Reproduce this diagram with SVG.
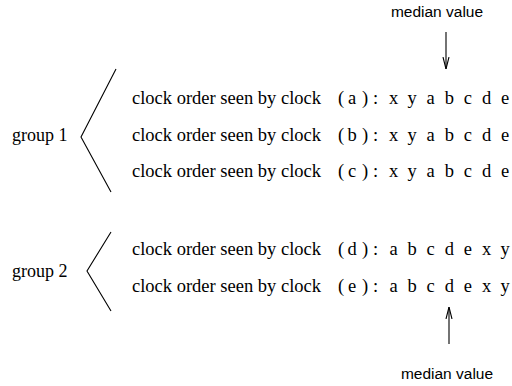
<svg xmlns="http://www.w3.org/2000/svg" width="512" height="386" viewBox="0 0 512 386">
  <style>
    .row { font-family: "Liberation Serif", "Times New Roman", serif; font-size: 18.5px; fill: #000; }
    .sym { text-anchor: middle; }
    .label { font-family: "Liberation Serif", "Times New Roman", serif; font-size: 18px; fill: #000; }
    .note { font-family: "Liberation Sans", Arial, sans-serif; font-size: 15.5px; fill: #000; text-anchor: middle; }
    .brace { fill: none; stroke: #000; stroke-width: 1.1; }
    .arrow { fill: none; stroke: #000; stroke-width: 1.1; }
  </style>
  <defs>
    <marker id="head" viewBox="0 0 12 8" refX="12" refY="4" markerWidth="12" markerHeight="8" markerUnits="userSpaceOnUse" orient="auto">
      <path d="M0,1 L12,4 L0,7" fill="none" stroke="#000" stroke-width="1.1"/>
    </marker>
  </defs>

  <!-- group 1: clocks a, b, c -->
  <g id="group1">
    <text class="label" x="12" y="141">group 1</text>
    <polyline class="brace" points="116,69 81,137 111,192"/>
  </g>

  <g id="row-a" class="row">
    <text x="132" y="104">clock order seen by clock</text>
    <text x="338" y="104">(</text><text x="348" y="104">a</text><text x="362" y="104">)</text><text x="373" y="104">:</text>
    <g class="sym">
      <text x="393.5" y="104">x</text><text x="412.1" y="104">y</text><text x="430.7" y="104">a</text><text x="449.3" y="104">b</text><text x="467.9" y="104">c</text><text x="486.5" y="104">d</text><text x="505.1" y="104">e</text>
    </g>
  </g>

  <g id="row-b" class="row">
    <text x="132" y="140.5">clock order seen by clock</text>
    <text x="338" y="140.5">(</text><text x="347.5" y="140.5">b</text><text x="362" y="140.5">)</text><text x="373" y="140.5">:</text>
    <g class="sym">
      <text x="393.5" y="140.5">x</text><text x="412.1" y="140.5">y</text><text x="430.7" y="140.5">a</text><text x="449.3" y="140.5">b</text><text x="467.9" y="140.5">c</text><text x="486.5" y="140.5">d</text><text x="505.1" y="140.5">e</text>
    </g>
  </g>

  <g id="row-c" class="row">
    <text x="132" y="177">clock order seen by clock</text>
    <text x="338" y="177">(</text><text x="348" y="177">c</text><text x="362" y="177">)</text><text x="373" y="177">:</text>
    <g class="sym">
      <text x="393.5" y="177">x</text><text x="412.1" y="177">y</text><text x="430.7" y="177">a</text><text x="449.3" y="177">b</text><text x="467.9" y="177">c</text><text x="486.5" y="177">d</text><text x="505.1" y="177">e</text>
    </g>
  </g>

  <!-- group 2: clocks d, e -->
  <g id="group2">
    <text class="label" x="12" y="277">group 2</text>
    <polyline class="brace" points="111,232 87,271 111,311"/>
  </g>

  <g id="row-d" class="row">
    <text x="132" y="255">clock order seen by clock</text>
    <text x="338" y="255">(</text><text x="347.5" y="255">d</text><text x="362" y="255">)</text><text x="373" y="255">:</text>
    <g class="sym">
      <text x="393.5" y="255">a</text><text x="412.1" y="255">b</text><text x="430.7" y="255">c</text><text x="449.3" y="255">d</text><text x="467.9" y="255">e</text><text x="486.5" y="255">x</text><text x="505.1" y="255">y</text>
    </g>
  </g>

  <g id="row-e" class="row">
    <text x="132" y="291.5">clock order seen by clock</text>
    <text x="338" y="291.5">(</text><text x="348" y="291.5">e</text><text x="362" y="291.5">)</text><text x="373" y="291.5">:</text>
    <g class="sym">
      <text x="393.5" y="291.5">a</text><text x="412.1" y="291.5">b</text><text x="430.7" y="291.5">c</text><text x="449.3" y="291.5">d</text><text x="467.9" y="291.5">e</text><text x="486.5" y="291.5">x</text><text x="505.1" y="291.5">y</text>
    </g>
  </g>

  <!-- median annotations -->
  <g id="median-top">
    <text class="note" x="437" y="17">median value</text>
  </g>
  <g id="median-bottom">
    <text class="note" x="447" y="379">median value</text>
  </g>

  <g id="connectors">
    <line class="arrow" x1="446" y1="32" x2="446" y2="69" marker-end="url(#head)"/>
    <line class="arrow" x1="449" y1="344" x2="449" y2="307" marker-end="url(#head)"/>
  </g>
</svg>
